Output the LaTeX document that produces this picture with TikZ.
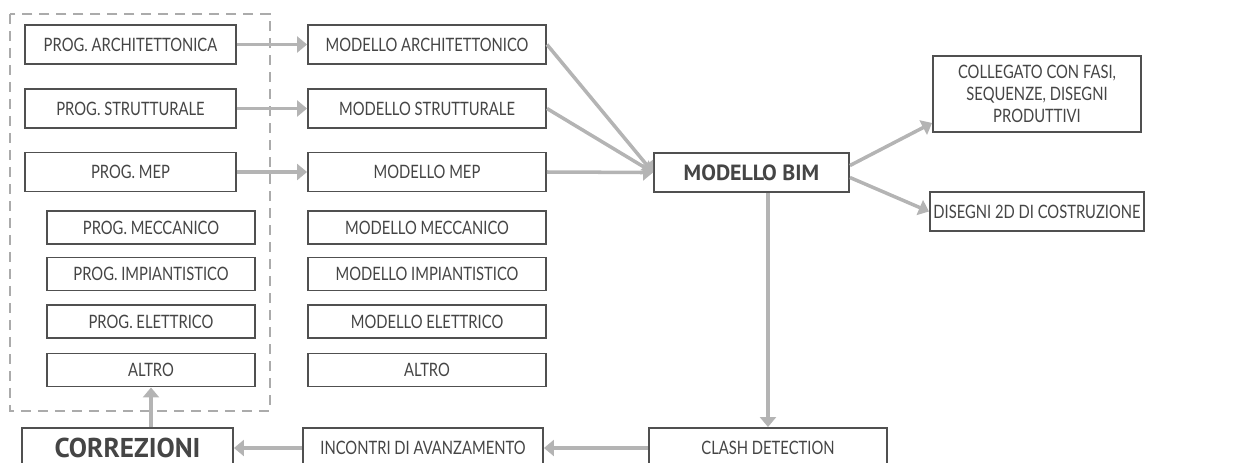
\documentclass[tikz,border=0pt]{standalone}
\usepackage{fontspec}
\setmainfont{Lato}[FakeStretch=0.8]
\newfontfamily\keyfont{PT Sans}
\usepackage{xcolor}
\usepackage{tikz}
\usetikzlibrary{arrows.meta, positioning, calc}
\definecolor{edge}{HTML}{505050}
\definecolor{ink}{HTML}{454545}
\definecolor{flow}{HTML}{B4B4B4}
\definecolor{frame}{HTML}{ABABAB}

\begin{document}
\begin{tikzpicture}[
    x=0.02cm, y=-0.02cm,
    box/.style={
        rectangle, draw=edge, line width=1.1pt, fill=white,
        align=center, font=\fontsize{10.5}{12.5}\selectfont, text=ink,
        inner sep=2pt,
    },
    prog/.style={box, minimum width=4.22cm, minimum height=0.78cm},
    sub/.style={box, minimum width=4.16cm, minimum height=0.66cm},
    model/.style={box, minimum width=4.76cm, minimum height=0.78cm},
    submodel/.style={box, minimum width=4.76cm, minimum height=0.66cm},
    output/.style={box, minimum width=4.16cm, minimum height=0.78cm},
    key/.style={box, font=\keyfont\bfseries\fontsize{12.5}{14}\selectfont},
    arrow/.style={-{Triangle[length=0.2cm, width=0.32cm]}, draw=flow, line width=2pt},
    group/.style={draw=frame, line width=0.9pt, dash pattern=on 0.2cm off 0.14cm},
]
\useasboundingbox (0,0) rectangle (1241,463);

% PROGETTI
\draw[group] (10,14) rectangle (270,411);
\node[prog] (pa) at (130.5,44.5) {PROG. ARCHITETTONICA};
\node[prog] (ps) at (130.5,108.5) {PROG. STRUTTURALE};
\node[prog] (pm) at (130.5,172) {PROG. MEP};
\node[sub] (pmec) at (151,227.5) {PROG. MECCANICO};
\node[sub] (pimp) at (151,274) {PROG. IMPIANTISTICO};
\node[sub] (pel) at (151,321.5) {PROG. ELETTRICO};
\node[sub] (palt) at (151,370) {ALTRO};

% MODELLI
\node[model] (ma) at (427,44.5) {MODELLO ARCHITETTONICO};
\node[model] (ms) at (427,108.5) {MODELLO STRUTTURALE};
\node[model] (mm) at (427,172) {MODELLO MEP};
\node[submodel] (mmec) at (427,227.5) {MODELLO MECCANICO};
\node[submodel] (mimp) at (427,274) {MODELLO IMPIANTISTICO};
\node[submodel] (mel) at (427,321.5) {MODELLO ELETTRICO};
\node[submodel] (malt) at (427,370) {ALTRO};

\draw[arrow] (pa) -- (ma);
\draw[arrow] (ps) -- (ms);
\draw[arrow] (pm) -- (mm);

% MODELLO BIM
\node[key, minimum width=3.9cm, minimum height=0.78cm] (bim) at (751.5,172.5) {MODELLO BIM};
\draw[arrow] (ma.east) -- (bim.west);
\draw[arrow] (ms.east) -- (bim.west);
\draw[arrow] (mm.east) -- (bim.west);

% OUTPUT
\node[output, minimum height=1.52cm] (coll) at (1037,94) {COLLEGATO CON FASI,\\SEQUENZE, DISEGNI\\PRODUTTIVI};
\node[output] (dis) at (1037,211.5) {DISEGNI 2D DI COSTRUZIONE};
\draw[arrow] ([yshift=0.14cm]bim.east) -- ([yshift=0.2cm]coll.south west);
\draw[arrow] ([yshift=-0.1cm]bim.east) -- (dis.west);

% CICLO DI VERIFICA
\node[model, minimum height=0.8cm] (clash) at (768,448) {CLASH DETECTION};
\node[model, minimum width=4.8cm, minimum height=0.8cm] (inc) at (423,448) {INCONTRI DI AVANZAMENTO};
\node[key, minimum width=4.22cm, minimum height=0.8cm, font=\keyfont\bfseries\fontsize{15.5}{17}\selectfont] (corr) at (127.5,448) {CORREZIONI};

\draw[arrow] (bim.south -| clash.north) -- (clash.north);
\draw[arrow] (clash) -- (inc);
\draw[arrow] (inc) -- (corr);
\draw[arrow] (corr.north -| palt.south) -- (palt.south);

\end{tikzpicture}
\end{document}
